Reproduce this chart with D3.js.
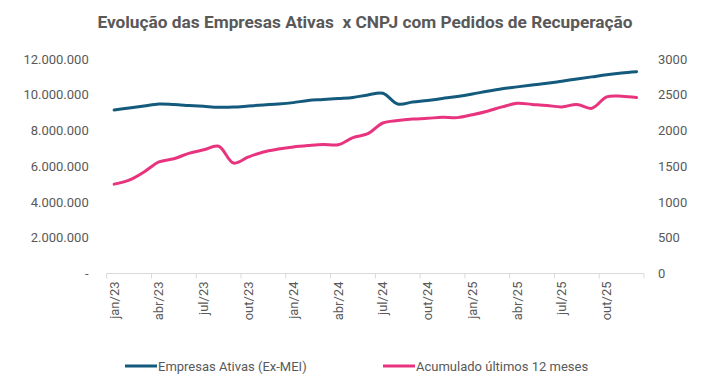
<!DOCTYPE html>
<html>
<head>
<meta charset="utf-8">
<script src="https://cdn.jsdelivr.net/npm/d3@7"></script>
<style>
  body { margin: 0; background: #fff; }
  text { font-family: Roboto, "Noto Sans", sans-serif; fill: #595959; }
</style>
</head>
<body>
<div id="chart"></div>
<script>
// Months jan/23 .. dez/25
var months = ["jan/23","fev/23","mar/23","abr/23","mai/23","jun/23","jul/23","ago/23","set/23","out/23","nov/23","dez/23",
              "jan/24","fev/24","mar/24","abr/24","mai/24","jun/24","jul/24","ago/24","set/24","out/24","nov/24","dez/24",
              "jan/25","fev/25","mar/25","abr/25","mai/25","jun/25","jul/25","ago/25","set/25","out/25","nov/25","dez/25"];

// Empresas Ativas (Ex-MEI) - left axis
var empresasAtivas = [9150000, 9260000, 9370000, 9480000, 9450000, 9400000, 9350000, 9300000, 9310000, 9370000, 9430000, 9480000,
                      9560000, 9680000, 9730000, 9790000, 9850000, 9990000, 10080000, 9480000, 9590000, 9680000, 9790000, 9900000,
                      10040000, 10200000, 10340000, 10440000, 10540000, 10640000, 10760000, 10880000, 11000000, 11120000, 11220000, 11290000];

// Acumulado últimos 12 meses - right axis
var acumulado12m = [1250, 1305, 1420, 1560, 1605, 1680, 1730, 1780, 1545, 1630, 1700, 1740,
                    1770, 1790, 1805, 1800, 1900, 1955, 2105, 2140, 2160, 2170, 2185, 2180,
                    2220, 2270, 2330, 2380, 2365, 2350, 2330, 2365, 2310, 2470, 2480, 2460];

var leftTicks = [0, 2000000, 4000000, 6000000, 8000000, 10000000, 12000000];
var rightTicks = [0, 500, 1000, 1500, 2000, 2500, 3000];
var labelEvery = 3;

var width = 709, height = 388;
var margin = { top: 59, right: 65, bottom: 114.5, left: 106.7 };
var innerW = width - margin.left - margin.right;
var innerH = height - margin.top - margin.bottom;

var blue = "#135a7c", pink = "#e8337f";

var svg = d3.select("#chart").append("svg")
    .attr("width", width)
    .attr("height", height);

// Title (keep the double space)
svg.append("text")
    .attr("x", 365)
    .attr("y", 28)
    .attr("text-anchor", "middle")
    .style("white-space", "pre")
    .style("font-size", "17.3px")
    .style("font-weight", "bold")
    .text("Evolução das Empresas Ativas  x CNPJ com Pedidos de Recuperação");

var g = svg.append("g")
    .attr("transform", "translate(" + margin.left + "," + margin.top + ")");

var x = d3.scaleBand().domain(months).range([0, innerW]);
var yLeft = d3.scaleLinear().domain([0, 12000000]).range([innerH, 0]);
var yRight = d3.scaleLinear().domain([0, 3000]).range([innerH, 0]);

var fmt = function (d) {
    if (d === 0) return "-";
    return d3.format(",")(d).replace(/,/g, ".");
};

// Left axis (labels only)
g.append("g")
    .call(d3.axisLeft(yLeft).tickValues(leftTicks).tickFormat(fmt).tickSize(0).tickPadding(18))
    .call(function (a) { a.select(".domain").remove(); })
    .selectAll("text")
    .style("font-size", "13px")
    .style("font-family", "Roboto, sans-serif");

// Right axis (labels only)
g.append("g")
    .attr("transform", "translate(" + innerW + ",0)")
    .call(d3.axisRight(yRight).tickValues(rightTicks).tickFormat(d3.format("d")).tickSize(0).tickPadding(14))
    .call(function (a) { a.select(".domain").remove(); })
    .selectAll("text")
    .style("font-size", "13px")
    .style("font-family", "Roboto, sans-serif");

// Bottom axis line and tick marks between categories
var xAxis = g.append("g").attr("transform", "translate(0," + innerH + ")");
xAxis.append("line")
    .attr("x1", 0).attr("x2", innerW)
    .attr("stroke", "#d9d9d9").attr("stroke-width", 1);
var tickIdx = d3.range(0, months.length + 1, labelEvery);
xAxis.selectAll(".tk")
    .data(tickIdx)
    .enter().append("line")
    .attr("class", "tk")
    .attr("x1", function (i) { return i * x.step(); })
    .attr("x2", function (i) { return i * x.step(); })
    .attr("y1", 0).attr("y2", 5)
    .attr("stroke", "#d9d9d9");

xAxis.selectAll(".lbl")
    .data(months.filter(function (d, i) { return i % labelEvery === 0; }))
    .enter().append("text")
    .attr("class", "lbl")
    .attr("transform", function (d) {
        return "translate(" + (x(d) + x.bandwidth() / 2 + 4.5) + ",8) rotate(-90)";
    })
    .attr("text-anchor", "end")
    .style("font-size", "13px")
    .text(function (d) { return d; });

// Lines
var lineLeft = d3.line()
    .x(function (d, i) { return x(months[i]) + x.bandwidth() / 2; })
    .y(function (d) { return yLeft(d); })
    .curve(d3.curveCatmullRom);

var lineRight = d3.line()
    .x(function (d, i) { return x(months[i]) + x.bandwidth() / 2; })
    .y(function (d) { return yRight(d); })
    .curve(d3.curveCatmullRom);

g.append("path")
    .datum(acumulado12m)
    .attr("d", lineRight)
    .attr("fill", "none")
    .attr("stroke", pink)
    .attr("stroke-width", 3)
    .attr("stroke-linecap", "round");

g.append("path")
    .datum(empresasAtivas)
    .attr("d", lineLeft)
    .attr("fill", "none")
    .attr("stroke", blue)
    .attr("stroke-width", 3)
    .attr("stroke-linecap", "round");

// Legend
var legendItems = [
    { name: "Empresas Ativas (Ex-MEI)", color: blue, x: 125 },
    { name: "Acumulado últimos 12 meses", color: pink, x: 383 }
];
var legend = svg.selectAll(".legend")
    .data(legendItems)
    .enter().append("g")
    .attr("class", "legend")
    .attr("transform", function (d) { return "translate(" + d.x + ",366)"; });
legend.append("line")
    .attr("x1", 0).attr("x2", 32)
    .attr("stroke", function (d) { return d.color; })
    .attr("stroke-width", 3);
legend.append("text")
    .attr("x", 33)
    .attr("y", 5)
    .style("font-size", "13px")
    .text(function (d) { return d.name; });
</script>
</body>
</html>
